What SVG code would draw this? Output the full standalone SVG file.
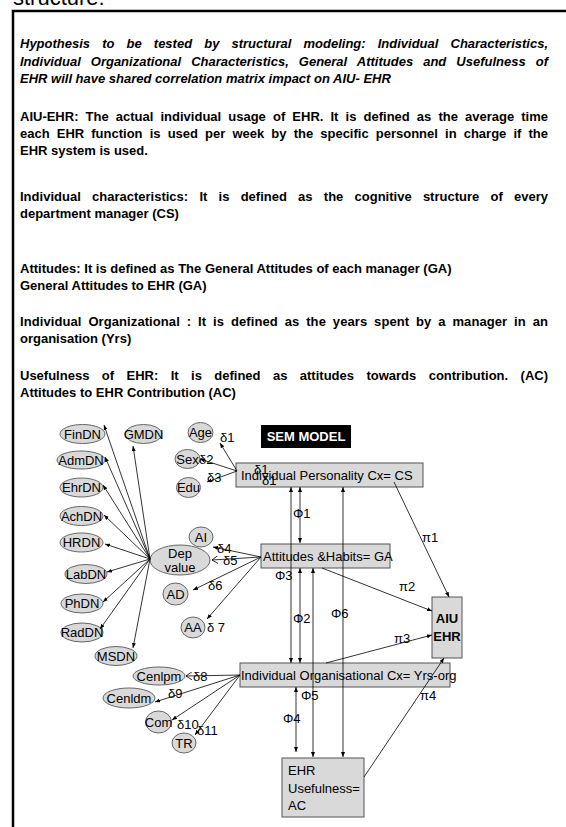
<svg xmlns="http://www.w3.org/2000/svg" width="566" height="827" viewBox="0 0 566 827">
<style>
.p{font-family:"Liberation Sans",Arial,sans-serif;font-size:13px;font-weight:bold;fill:#000}
.pi{font-style:italic}
.t{font-family:"Liberation Sans",Arial,sans-serif;font-size:13px;fill:#000}
.c{text-anchor:middle}
.b{font-weight:bold}
.el{fill:#d9d9d9;stroke:#666;stroke-width:1}
.bx{fill:#d9d9d9;stroke:#555;stroke-width:1}
.ln{stroke:#000;stroke-width:0.8;fill:none}
.a{marker-end:url(#ah)}
.o{marker-end:url(#oh)}
.d{marker-start:url(#ah);marker-end:url(#ah)}
</style>
<defs>
<marker id="ah" markerUnits="userSpaceOnUse" markerWidth="6" markerHeight="5" refX="5" refY="2" orient="auto-start-reverse"><path d="M0,0 L5,2 L0,4 z" fill="#000"/></marker>
<marker id="oh" markerUnits="userSpaceOnUse" markerWidth="7" markerHeight="8" refX="6" refY="4" orient="auto"><path d="M0,0 L6,4 L0,8" fill="none" stroke="#000" stroke-width="0.8"/></marker>
</defs>
<rect width="566" height="827" fill="#fff"/>
<text x="13" y="5" style="font-family:'Liberation Sans',Arial,sans-serif;font-size:22px">structure:</text>
<rect x="13" y="11" width="620" height="900" fill="none" stroke="#000" stroke-width="2.5"/>

<g id="text-blocks">
<text class="p pi" x="20" y="48" word-spacing="8.5" textLength="528" lengthAdjust="spacing">Hypothesis to be tested by structural modeling: Individual Characteristics,</text>
<text class="p pi" x="20" y="66" word-spacing="6.4" textLength="528" lengthAdjust="spacing">Individual Organizational Characteristics, General Attitudes and Usefulness of</text>
<text class="p pi" x="20" y="83">EHR will have shared correlation matrix impact on AIU- EHR</text>
<text class="p" x="20" y="121" word-spacing="3.5" textLength="528" lengthAdjust="spacing">AIU-EHR: The actual individual usage of EHR. It is defined as the average time</text>
<text class="p" x="20" y="138" word-spacing="3.5" textLength="528" lengthAdjust="spacing">each EHR function is used per week by the specific personnel in charge if the</text>
<text class="p" x="20" y="155">EHR system is used.</text>
<text class="p" x="20" y="201" word-spacing="7.6" textLength="528" lengthAdjust="spacing">Individual characteristics: It is defined as the cognitive structure of every</text>
<text class="p" x="20" y="218">department manager (CS)</text>
<text class="p" x="20" y="273">Attitudes: It is defined as The General Attitudes of each manager (GA)</text>
<text class="p" x="20" y="290">General Attitudes to EHR (GA)</text>
<text class="p" x="20" y="326" word-spacing="3.2" textLength="528" lengthAdjust="spacing">Individual Organizational : It is defined as the years spent by a manager in an</text>
<text class="p" x="20" y="343">organisation (Yrs)</text>
<text class="p" x="20" y="380" word-spacing="8.8" textLength="528" lengthAdjust="spacing">Usefulness of EHR: It is defined as attitudes towards contribution. (AC)</text>
<text class="p" x="20" y="397">Attitudes to EHR Contribution (AC)</text>
</g>

<g id="sem-model-label">
<rect x="261" y="425" width="90" height="23" fill="#000"/>
<text class="t b c" x="306" y="441" style="fill:#fff">SEM MODEL</text>
</g>

<g id="n-finDN"><ellipse class="el" cx="82.5" cy="434" rx="22.5" ry="9.5"/><text class="t c" x="82.5" y="438.5">FinDN</text></g>
<g id="n-gmDN"><ellipse class="el" cx="143.5" cy="434" rx="18.5" ry="9.5"/><text class="t c" x="143.5" y="438.5">GMDN</text></g>
<g id="n-admDN"><ellipse class="el" cx="81" cy="460" rx="24" ry="9"/><text class="t c" x="81" y="464.5">AdmDN</text></g>
<g id="n-ehrDN"><ellipse class="el" cx="81.5" cy="487.5" rx="21.5" ry="9.5"/><text class="t c" x="81.5" y="492">EhrDN</text></g>
<g id="n-achDN"><ellipse class="el" cx="81.5" cy="516" rx="21.5" ry="9.5"/><text class="t c" x="81.5" y="520.5">AchDN</text></g>
<g id="n-hrDN"><ellipse class="el" cx="81.5" cy="542.5" rx="21.5" ry="9.5"/><text class="t c" x="81.5" y="547">HRDN</text></g>
<g id="n-labDN"><ellipse class="el" cx="86" cy="574" rx="21" ry="9.5"/><text class="t c" x="86" y="578.5">LabDN</text></g>
<g id="n-phDN"><ellipse class="el" cx="82" cy="603.5" rx="21" ry="9.5"/><text class="t c" x="82" y="608">PhDN</text></g>
<g id="n-radDN"><ellipse class="el" cx="82" cy="632.5" rx="21" ry="9.5"/><text class="t c" x="82" y="637">RadDN</text></g>
<g id="n-msDN"><ellipse class="el" cx="116" cy="656" rx="21" ry="9.5"/><text class="t c" x="116" y="660.5">MSDN</text></g>
<g id="n-dep"><ellipse class="el" cx="180" cy="560" rx="30" ry="15"/><text class="t c" x="180" y="558">Dep</text><text class="t c" x="180" y="572">value</text></g>
<g id="n-age"><ellipse class="el" cx="200.5" cy="432.5" rx="12.5" ry="10"/><text class="t c" x="200.5" y="437">Age</text></g>
<g id="n-sex"><ellipse class="el" cx="187.5" cy="459" rx="12.5" ry="9.5"/><text class="t c" x="187.5" y="463.5">Sex</text></g>
<g id="n-edu"><ellipse class="el" cx="188.5" cy="487.5" rx="12" ry="10"/><text class="t c" x="188.5" y="492">Edu</text></g>
<g id="n-ai"><ellipse class="el" cx="201" cy="537" rx="12" ry="10"/><text class="t c" x="201" y="541.5">AI</text></g>
<g id="n-ad"><ellipse class="el" cx="175.5" cy="594" rx="12.5" ry="11"/><text class="t c" x="175.5" y="598.5">AD</text></g>
<g id="n-aa"><ellipse class="el" cx="193" cy="627.5" rx="12" ry="10.5"/><text class="t c" x="193" y="632">AA</text></g>
<g id="n-cenlpm"><ellipse class="el" cx="159" cy="676" rx="26" ry="9"/><text class="t c" x="159" y="680.5">Cenlpm</text></g>
<g id="n-cenldm"><ellipse class="el" cx="129" cy="698" rx="26" ry="10"/><text class="t c" x="129" y="702.5">Cenldm</text></g>
<g id="n-com"><ellipse class="el" cx="158.5" cy="722" rx="13" ry="11"/><text class="t c" x="158.5" y="726.5">Com</text></g>
<g id="n-tr"><ellipse class="el" cx="184" cy="743" rx="12" ry="10"/><text class="t c" x="184" y="747.5">TR</text></g>

<g id="n-personality"><rect class="bx" x="236" y="463" width="187" height="24"/><text class="t" x="241" y="479.5">Individual Personality Cx= CS</text></g>
<g id="n-attitudes"><rect class="bx" x="261" y="544" width="129" height="24"/><text class="t" x="263" y="561">Attitudes &amp;Habits= GA</text></g>
<g id="n-aiu"><rect class="bx" x="432" y="597" width="30" height="61"/><text class="t b c" x="447" y="623">AIU</text><text class="t b c" x="447" y="641">EHR</text></g>
<g id="n-org"><rect class="bx" x="240" y="663" width="210" height="24"/><text class="t" x="241" y="680">Individual Organisational Cx= Yrs-org</text></g>
<g id="n-usefulness"><rect class="bx" x="282" y="758" width="82" height="59"/><text class="t" x="288" y="775">EHR</text><text class="t" x="288" y="793">Usefulness=</text><text class="t" x="288" y="810">AC</text></g>

<g id="connectors">
<line class="ln a" x1="150" y1="559" x2="104" y2="425"/>
<line class="ln a" x1="150" y1="559" x2="133" y2="446"/>
<line class="ln a" x1="150" y1="559" x2="105" y2="457"/>
<line class="ln a" x1="150" y1="559" x2="103" y2="485"/>
<line class="ln a" x1="150" y1="559" x2="104" y2="515"/>
<line class="ln a" x1="150" y1="559" x2="105" y2="544"/>
<line class="ln a" x1="150" y1="559" x2="107" y2="572"/>
<line class="ln a" x1="150" y1="559" x2="103" y2="602"/>
<line class="ln a" x1="150" y1="559" x2="100" y2="629"/>
<line class="ln a" x1="150" y1="559" x2="133" y2="648"/>
<line class="ln a" x1="237" y1="471" x2="220" y2="443"/>
<line class="ln a" x1="237" y1="471" x2="200" y2="459"/>
<line class="ln a" x1="237" y1="471" x2="207" y2="482"/>
<line class="ln a" x1="261" y1="557" x2="213" y2="547"/>
<line class="ln o" x1="261" y1="557" x2="212" y2="560"/>
<line class="ln a" x1="261" y1="557" x2="193" y2="590"/>
<line class="ln a" x1="261" y1="557" x2="207" y2="619"/>
<line class="ln o" x1="240" y1="675" x2="186" y2="676"/>
<line class="ln a" x1="240" y1="675" x2="155" y2="702"/>
<line class="ln a" x1="240" y1="675" x2="172" y2="720"/>
<line class="ln a" x1="240" y1="675" x2="195" y2="735"/>
<line class="ln d" x1="300" y1="487" x2="300" y2="543"/>
<line class="ln d" x1="291" y1="487" x2="291" y2="663"/>
<line class="ln d" x1="300" y1="568" x2="300" y2="663"/>
<line class="ln d" x1="343" y1="487" x2="343" y2="757"/>
<line class="ln d" x1="313" y1="568" x2="313" y2="757"/>
<line class="ln d" x1="296" y1="687" x2="296" y2="752"/>
<line class="ln a" x1="394" y1="482" x2="449" y2="597"/>
<line class="ln a" x1="322" y1="568" x2="432" y2="611"/>
<line class="ln a" x1="326" y1="663" x2="432" y2="635"/>
<line class="ln a" x1="364" y1="777" x2="444" y2="658"/>
</g>

<g id="labels">
<text class="t" x="220" y="441.5">δ1</text>
<text class="t" x="199" y="463.5">δ2</text>
<text class="t" x="207" y="481.5">δ3</text>
<text class="t" x="254" y="474">δ1</text>
<text class="t" x="262" y="485">δ1</text>
<text class="t" x="217" y="552.5">δ4</text>
<text class="t" x="223" y="564.5">δ5</text>
<text class="t" x="208" y="589.5">δ6</text>
<text class="t" x="207" y="631.5">δ 7</text>
<text class="t" x="193" y="680.5">δ8</text>
<text class="t" x="168" y="697.5">δ9</text>
<text class="t" x="177" y="728.5">δ10</text>
<text class="t" x="197" y="734.5">δ11</text>
<text class="t" x="293" y="518">Φ1</text>
<text class="t" x="275" y="580">Φ3</text>
<text class="t" x="293" y="622.5">Φ2</text>
<text class="t" x="331" y="617.5">Φ6</text>
<text class="t" x="301" y="699.5">Φ5</text>
<text class="t" x="283" y="722.5">Φ4</text>
<text class="t" x="422" y="541.5">π1</text>
<text class="t" x="399" y="590.5">π2</text>
<text class="t" x="394" y="642.5">π3</text>
<text class="t" x="420" y="699.5">π4</text>
</g>
</svg>
